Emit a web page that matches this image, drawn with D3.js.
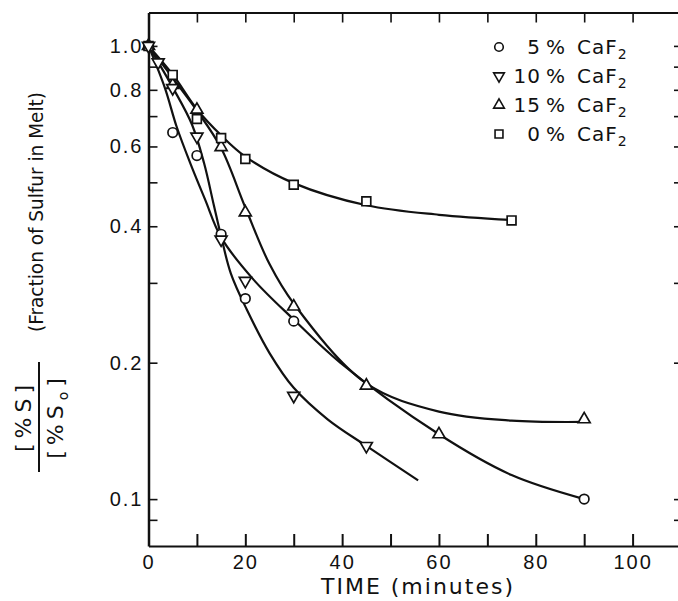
<!DOCTYPE html>
<html>
<head>
<meta charset="utf-8">
<script src="https://cdnjs.cloudflare.com/ajax/libs/d3/7.8.5/d3.min.js"></script>
<style>
  html, body { margin: 0; padding: 0; background: #fff; }
  svg { display: block; font-family: "DejaVu Sans", sans-serif; }
  .axis path, .axis line { stroke: #111; }
  .axis text { fill: #111; font-size: 20px; letter-spacing: 2px; }
</style>
</head>
<body>
<div class="graphResult"></div>
<script>
// measured points, time in minutes vs [%S]/[%S0]
var times5 = [0, 5, 10, 15, 20, 30, 90];
var frac5 = [1.0, 0.644, 0.573, 0.384, 0.277, 0.247, 0.100];

var times10 = [0, 2, 5, 10, 15, 20, 30, 45];
var frac10 = [1.0, 0.92, 0.807, 0.631, 0.374, 0.303, 0.169, 0.131];

var times15 = [0, 5, 10, 15, 20, 30, 45, 60, 90];
var frac15 = [1.0, 0.82, 0.723, 0.598, 0.429, 0.266, 0.178, 0.139, 0.150];

var times0 = [0, 5, 10, 15, 20, 30, 45, 75];
var frac0 = [1.0, 0.863, 0.690, 0.626, 0.563, 0.494, 0.454, 0.412];

// hand drawn fit curves
var fitTimes5 = [0, 3.4, 5.8, 8.6, 11.7, 15, 21.7, 30, 39.6, 60, 75, 90];
var fit5 = [1.0, 0.807, 0.664, 0.552, 0.458, 0.378, 0.305, 0.249, 0.200, 0.139, 0.113, 0.100];

var fitTimes10 = [0, 5, 9, 11.5, 13.5, 15, 17, 20.3, 25, 30, 37, 45, 55.7];
var fit10 = [1.0, 0.810, 0.670, 0.550, 0.445, 0.380, 0.315, 0.262, 0.210, 0.176, 0.150, 0.131, 0.110];

var fitTimes15 = [0, 5, 10, 15, 20, 25, 30, 45, 60, 75, 90];
var fit15 = [1.0, 0.85, 0.72, 0.595, 0.44, 0.33, 0.27, 0.18, 0.156, 0.149, 0.148];

var fitTimes0 = [0, 5, 10, 15, 20, 30, 45, 60, 75];
var fit0 = [1.0, 0.865, 0.725, 0.635, 0.570, 0.498, 0.445, 0.424, 0.413];

var xTicks = [0, 10, 20, 30, 40, 50, 60, 70, 80, 90, 100];
var xLabels = [0, 20, 40, 60, 80, 100];
var yTicks = [1.0, 0.9, 0.8, 0.7, 0.6, 0.5, 0.4, 0.3, 0.2, 0.1, 0.09];
var yLabels = [1.0, 0.8, 0.6, 0.4, 0.2, 0.1];

var legendNames = ["5", "10", "15", "0"];
var legendShapes = ["circle", "down", "up", "square"];

var fullWidth = 678;
var fullHeight = 601;

var svg = d3.select('.graphResult').append('svg')
  .attr('width', fullWidth)
  .attr('height', fullHeight);

// right edge of the frame sits just past the crop of the scan
var x = d3.scaleLinear().domain([0, 110]).range([148.5, 681]);
var y = d3.scaleLog().domain([0.0788, 1.185]).range([546, 12.5]);

// axes, all ticks point inward
var xAxis = d3.axisBottom(x)
  .tickValues(xTicks)
  .tickSizeInner(-12)
  .tickSizeOuter(0)
  .tickPadding(9)
  .tickFormat(function(d) { return xLabels.indexOf(d) >= 0 ? d : ''; });

svg.append('g')
  .classed('x axis', true)
  .attr('transform', 'translate(0,' + y.range()[0] + ')')
  .call(xAxis)
  .call(function(g) {
    g.select('.domain').attr('stroke-width', 2.2);
    g.selectAll('line').attr('stroke-width', 2);
  });

svg.append('g')
  .classed('axis', true)
  .attr('transform', 'translate(0,' + y.range()[1] + ')')
  .call(d3.axisTop(x).tickValues(xTicks.slice(1)).tickSizeInner(-10).tickSizeOuter(0).tickFormat(''))
  .call(function(g) {
    g.select('.domain').attr('stroke-width', 2);
    g.selectAll('line').attr('stroke-width', 1.6);
  });

var yAxis = d3.axisLeft(y)
  .tickValues(yTicks)
  .tickSizeInner(-9)
  .tickSizeOuter(0)
  .tickPadding(5)
  .tickFormat(function(d) { return yLabels.indexOf(d) >= 0 ? d3.format('.1f')(d) : ''; });

svg.append('g')
  .classed('y axis', true)
  .attr('transform', 'translate(' + x.range()[0] + ',0)')
  .call(yAxis)
  .call(function(g) {
    g.select('.domain').attr('stroke-width', 2.5);
    g.selectAll('line').attr('stroke-width', 1.6);
  });

svg.append('g')
  .classed('axis', true)
  .attr('transform', 'translate(' + x.range()[1] + ',0)')
  .call(d3.axisRight(y).tickValues(yTicks).tickSizeInner(-7).tickSizeOuter(0).tickFormat(''))
  .call(function(g) {
    g.selectAll('line').attr('stroke-width', 1.6);
  });

// axis titles
svg.append('text')
  .attr('x', 418)
  .attr('y', 594)
  .attr('text-anchor', 'middle')
  .style('font-size', '22px')
  .style('letter-spacing', '2px')
  .style('fill', '#111')
  .text('TIME (minutes)');

svg.append('text')
  .attr('transform', 'translate(43,212)rotate(-90)')
  .attr('text-anchor', 'middle')
  .attr('textLength', 240)
  .attr('lengthAdjust', 'spacingAndGlyphs')
  .style('font-size', '19.5px')
  .style('fill', '#111')
  .text('(Fraction of Sulfur in Melt)');

var frac = svg.append('g').attr('transform', 'translate(0,416)');
frac.append('text')
  .attr('transform', 'translate(31,0)rotate(-90)')
  .attr('text-anchor', 'middle')
  .style('font-size', '22px')
  .style('letter-spacing', '5px')
  .style('fill', '#111')
  .text('[%S]');
frac.append('line')
  .attr('x1', 39).attr('x2', 39)
  .attr('y1', -54).attr('y2', 56)
  .attr('stroke', '#111')
  .attr('stroke-width', 2);
var bottomText = frac.append('text')
  .attr('transform', 'translate(63,0)rotate(-90)')
  .attr('text-anchor', 'middle')
  .style('font-size', '22px')
  .style('letter-spacing', '5px')
  .style('fill', '#111');
bottomText.append('tspan').text('[%S');
bottomText.append('tspan').attr('dy', 5).style('font-size', '14px').text('o');
bottomText.append('tspan').attr('dy', -5).text(']');

// fitted curves
function zip(ts, vs) {
  return ts.map(function(t, i) { return [t, vs[i]]; });
}

var line = d3.line()
  .x(function(d) { return x(d[0]); })
  .y(function(d) { return y(d[1]); })
  .curve(d3.curveCatmullRom.alpha(0.5));

var fits = [zip(fitTimes0, fit0), zip(fitTimes15, fit15), zip(fitTimes10, fit10), zip(fitTimes5, fit5)];

svg.append('g').selectAll('path.fit')
  .data(fits)
  .enter()
  .append('path')
  .classed('fit', true)
  .attr('d', line)
  .attr('fill', 'none')
  .attr('stroke', '#111')
  .attr('stroke-width', 2.2);

// markers
function symbolPath(shape, k) {
  k = k || 1;
  if (shape === 'circle') return d3.symbol().type(d3.symbolCircle).size(72 * k)();
  if (shape === 'square') return d3.symbol().type(d3.symbolSquare).size(78 * k)();
  return d3.symbol().type(d3.symbolTriangle).size(62 * k)();
}

function addMarkers(ts, vs, shape) {
  svg.append('g').selectAll('path')
    .data(zip(ts, vs))
    .enter()
    .append('path')
    .attr('d', symbolPath(shape))
    .attr('transform', function(d) {
      return 'translate(' + x(d[0]) + ',' + y(d[1]) + ')' + (shape === 'down' ? 'rotate(180)' : '');
    })
    .attr('fill', '#fff')
    .attr('stroke', '#111')
    .attr('stroke-width', 1.7);
}

addMarkers(times5, frac5, 'circle');
addMarkers(times15, frac15, 'up');
addMarkers(times0, frac0, 'square');
addMarkers(times10, frac10, 'down');

// legend
var legend = svg.append('g').classed('legend', true);
legendNames.forEach(function(name, i) {
  var cy = 47 + i * 29;
  legend.append('path')
    .attr('d', symbolPath(legendShapes[i], 0.8))
    .attr('transform', 'translate(499,' + cy + ')' + (legendShapes[i] === 'down' ? 'rotate(180)' : ''))
    .attr('fill', '#fff')
    .attr('stroke', '#111')
    .attr('stroke-width', 1.6);
  legend.append('text')
    .attr('x', 541).attr('y', cy + 7)
    .attr('text-anchor', 'end')
    .style('font-size', '20px')
    .style('letter-spacing', '1px')
    .style('fill', '#111')
    .text(name);
  legend.append('text')
    .attr('x', 546).attr('y', cy + 7)
    .style('font-size', '20px')
    .style('fill', '#111')
    .text('%');
  var t = legend.append('text')
    .attr('x', 577).attr('y', cy + 7)
    .style('font-size', '20px')
    .style('letter-spacing', '1px')
    .style('fill', '#111');
  t.append('tspan').text('CaF');
  t.append('tspan').attr('dy', 5).style('font-size', '14px').text('2');
});
</script>
</body>
</html>
